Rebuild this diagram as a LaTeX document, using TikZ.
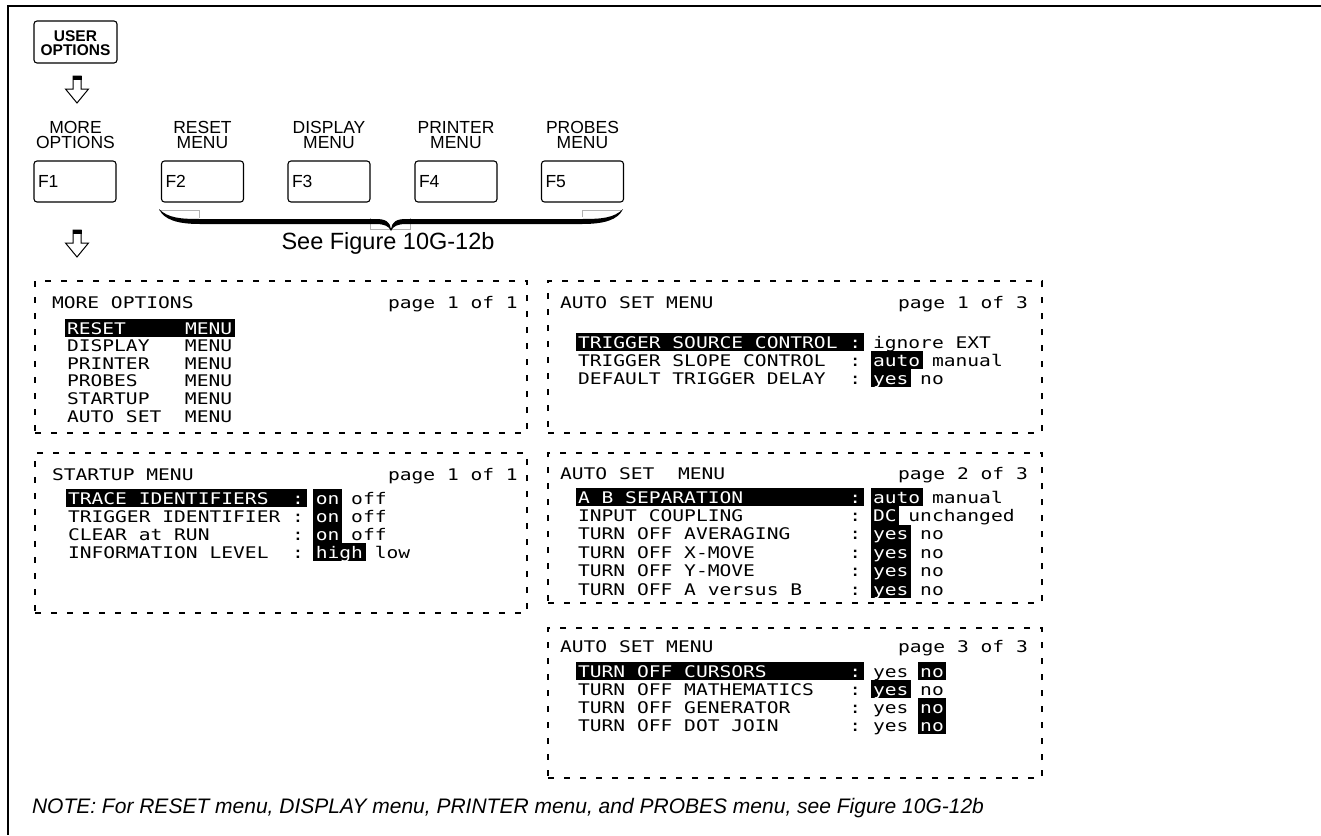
\documentclass[tikz,border=0pt]{standalone}
\usepackage{fontspec}
\setmainfont{Liberation Sans}
\newfontfamily\lcd[FakeStretch=1.225]{DejaVu Sans Mono}
\newcommand\lcdfont{\lcd\fontsize{16}{16}\selectfont\frenchspacing}
\newlength\lcdw
\AtBeginDocument{%
  \settowidth\lcdw{\lcdfont M}%
  \ifdim\lcdw<1pt \global\lcdw=11.8pt \fi
  \begingroup\lcdfont\fontdimen2\font=\lcdw\fontdimen3\font=0pt\fontdimen4\font=0pt\fontdimen7\font=0pt\endgroup}
\newcommand\hlbx[4]{\fill (#1+#2*\aw-2.5,#4-15.2) rectangle (#1+#3*\aw+2.5,#4+3.2);}
\newcommand\downblock[2]{%
  \draw[line width=1pt,line join=miter,fill=white] (#1-4,#2) -- (#1-4,#2+13) -- (#1-11.5,#2+13) -- (#1,#2+27) -- (#1+11.5,#2+13) -- (#1+4,#2+13) -- (#1+4,#2) -- cycle;
  \fill (#1-4.5,#2-0.5) rectangle (#1+4.5,#2+3.5);}
\tikzset{
  every node/.style={inner sep=0pt, outer sep=0pt},
  frameline/.style={line width=2.5pt},
  userkey/.style={draw, rounded corners=3pt, line width=1.1pt, minimum width=83pt, minimum height=42pt, anchor=north west},
  fkey/.style={draw, rounded corners=3pt, line width=1.1pt, minimum width=82pt, minimum height=41pt, anchor=north west},
  keytxt/.style={anchor=base, font=\bfseries\fontsize{15.5}{15.5}\selectfont},
  lbl/.style={anchor=base, font=\fontsize{17.5}{17.5}\selectfont},
  ftxt/.style={anchor=base west, font=\fontsize{17.5}{17.5}\selectfont},
  panel/.style={draw, line width=1.1pt, dash pattern=on 6pt off 10pt, anchor=north west},
  lcdt/.style={anchor=base west, font=\lcdfont},
  ghost/.style={draw=black!30, line width=0.8pt},
}
\begin{document}
\begin{tikzpicture}[x=1pt,y=-1pt]
\pgfmathsetmacro\aw{\lcdw}
\useasboundingbox (0,0) rectangle (1321,835);
% outer frame (top and left edges)
\draw[frameline] (1321,6) -- (8,6) -- (8,835);

% USER OPTIONS key
\node[userkey] (uo) at (34,21) {};
\node[keytxt] (uo1) at (75.5,41.7) {USER};
\node[keytxt] (uo2) at (75.5,55) {OPTIONS};
\downblock{77}{76}

% labels above function keys
\node[lbl] (l1a) at (75.5,133.3) {MORE};
\node[lbl] (l1b) at (75.5,148.5) {OPTIONS};
\node[lbl] (l2a) at (202.5,133.3) {RESET};
\node[lbl] (l2b) at (202.5,148.5) {MENU};
\node[lbl] (l3a) at (329,133.3) {DISPLAY};
\node[lbl] (l3b) at (329,148.5) {MENU};
\node[lbl] (l4a) at (456,133.3) {PRINTER};
\node[lbl] (l4b) at (456,148.5) {MENU};
\node[lbl] (l5a) at (582.5,133.3) {PROBES};
\node[lbl] (l5b) at (582.5,148.5) {MENU};

% function keys
\node[fkey] (f1) at (34,161) {};
\node[fkey] (f2) at (161.5,161) {};
\node[fkey] (f3) at (288,161) {};
\node[fkey] (f4) at (415,161) {};
\node[fkey] (f5) at (541.5,161) {};
\node[ftxt] (f1t) at (38,187) {F1};
\node[ftxt] (f2t) at (165.5,187) {F2};
\node[ftxt] (f3t) at (292,187) {F3};
\node[ftxt] (f4t) at (419,187) {F4};
\node[ftxt] (f5t) at (545.5,187) {F5};

% brace with its faint box remnants
\draw[ghost] (159,210) -- (199,210) -- (199,218);
\draw[ghost] (370,218) -- (370,229) -- (410,229) -- (410,218);
\draw[ghost] (582,217) -- (582,210) -- (622,210);
\fill (159,209) .. controls (168,218) and (180,219) .. (200,219) -- (376,219)
  .. controls (386,219) and (390,222) .. (391,229)
  .. controls (392,222) and (396,219) .. (406,219) -- (582,219)
  .. controls (602,219) and (614,218) .. (623,209)
  .. controls (618,220) and (604,224) .. (582,224) -- (406,224)
  .. controls (398,224) and (393,226) .. (391,231)
  .. controls (389,226) and (384,224) .. (376,224) -- (200,224)
  .. controls (178,224) and (164,220) .. (159,209) -- cycle;
\node[anchor=base, font=\fontsize{23.5}{23.5}\selectfont] (see) at (388,249) {See Figure 10G-12b};
\downblock{77}{230}

% ---------- panel: MORE OPTIONS ----------
\node[panel, minimum width=492pt, minimum height=152pt] (pa) at (35,281) {};
\node[lcdt] (pat) at (52,308) {MORE~OPTIONS};
\node[lcdt] (pap) at (388,308) {page~1~of~1};
\hlbx{67}{0}{14}{334}
\node[lcdt] (pa1) at (67,334) {\textcolor{white}{RESET~~~~~MENU}};
\node[lcdt] (pa2) at (67,351.6) {DISPLAY~~~MENU};
\node[lcdt] (pa3) at (67,369.2) {PRINTER~~~MENU};
\node[lcdt] (pa4) at (67,386.8) {PROBES~~~~MENU};
\node[lcdt] (pa5) at (67,404.4) {STARTUP~~~MENU};
\node[lcdt] (pa6) at (67,422) {AUTO~SET~~MENU};

% ---------- panel: AUTO SET MENU page 1 ----------
\node[panel, minimum width=494pt, minimum height=152pt] (pb) at (548,281) {};
\node[lcdt] (pbt) at (560,308) {AUTO~SET~MENU};
\node[lcdt] (pbp) at (898,308) {page~1~of~3};
\hlbx{578}{0}{24}{348}
\hlbx{578}{25}{29}{366}
\hlbx{578}{25}{28}{384}
\node[lcdt] (pb1) at (578,348) {\textcolor{white}{TRIGGER~SOURCE~CONTROL~:}~ignore~EXT};
\node[lcdt] (pb2) at (578,366) {TRIGGER~SLOPE~CONTROL~~:~\textcolor{white}{auto}~manual};
\node[lcdt] (pb3) at (578,384) {DEFAULT~TRIGGER~DELAY~~:~\textcolor{white}{yes}~no};

% ---------- panel: STARTUP MENU ----------
\node[panel, minimum width=492pt, minimum height=160pt] (pc) at (35,453) {};
\node[lcdt] (pct) at (52,480) {STARTUP~MENU};
\node[lcdt] (pcp) at (388,480) {page~1~of~1};
\hlbx{68}{0}{20}{504}
\hlbx{68}{21}{23}{504}
\hlbx{68}{21}{23}{522}
\hlbx{68}{21}{23}{540}
\hlbx{68}{21}{25}{558}
\node[lcdt] (pc1) at (68,504) {\textcolor{white}{TRACE~IDENTIFIERS~~:}~\textcolor{white}{on}~off};
\node[lcdt] (pc2) at (68,522) {TRIGGER~IDENTIFIER~:~\textcolor{white}{on}~off};
\node[lcdt] (pc3) at (68,540) {CLEAR~at~RUN~~~~~~~:~\textcolor{white}{on}~off};
\node[lcdt] (pc4) at (68,558) {INFORMATION~LEVEL~~:~\textcolor{white}{high}~low};

% ---------- panel: AUTO SET MENU page 2 ----------
\node[panel, minimum width=494pt, minimum height=150pt] (pd) at (548,453) {};
\node[lcdt] (pdt) at (560,479) {AUTO~SET~~MENU};
\node[lcdt] (pdp) at (898,479) {page~2~of~3};
\hlbx{578}{0}{24}{503}
\hlbx{578}{25}{29}{503}
\hlbx{578}{25}{27}{521.4}
\hlbx{578}{25}{28}{539.8}
\hlbx{578}{25}{28}{558.2}
\hlbx{578}{25}{28}{576.6}
\hlbx{578}{25}{28}{595}
\node[lcdt] (pd1) at (578,503) {\textcolor{white}{A~B~SEPARATION~~~~~~~~~:}~\textcolor{white}{auto}~manual};
\node[lcdt] (pd2) at (578,521.4) {INPUT~COUPLING~~~~~~~~~:~\textcolor{white}{DC}~unchanged};
\node[lcdt] (pd3) at (578,539.8) {TURN~OFF~AVERAGING~~~~~:~\textcolor{white}{yes}~no};
\node[lcdt] (pd4) at (578,558.2) {TURN~OFF~X-MOVE~~~~~~~~:~\textcolor{white}{yes}~no};
\node[lcdt] (pd5) at (578,576.6) {TURN~OFF~Y-MOVE~~~~~~~~:~\textcolor{white}{yes}~no};
\node[lcdt] (pd6) at (578,595) {TURN~OFF~A~versus~B~~~~:~\textcolor{white}{yes}~no};

% ---------- panel: AUTO SET MENU page 3 ----------
\node[panel, minimum width=494pt, minimum height=150pt] (pe) at (548,628) {};
\node[lcdt] (pet) at (560,652) {AUTO~SET~MENU};
\node[lcdt] (pep) at (898,652) {page~3~of~3};
\hlbx{578}{0}{24}{677}
\hlbx{578}{29}{31}{677}
\hlbx{578}{25}{28}{695}
\hlbx{578}{29}{31}{713}
\hlbx{578}{29}{31}{731}
\node[lcdt] (pe1) at (578,677) {\textcolor{white}{TURN~OFF~CURSORS~~~~~~~:}~yes~\textcolor{white}{no}};
\node[lcdt] (pe2) at (578,695) {TURN~OFF~MATHEMATICS~~~:~\textcolor{white}{yes}~no};
\node[lcdt] (pe3) at (578,713) {TURN~OFF~GENERATOR~~~~~:~yes~\textcolor{white}{no}};
\node[lcdt] (pe4) at (578,731) {TURN~OFF~DOT~JOIN~~~~~~:~yes~\textcolor{white}{no}};

% note
\node[anchor=base west, font=\itshape\fontsize{21}{21}\selectfont] (note) at (32,813) {NOTE: For RESET menu, DISPLAY menu, PRINTER menu, and PROBES menu, see Figure 10G-12b};
\end{tikzpicture}
\end{document}
